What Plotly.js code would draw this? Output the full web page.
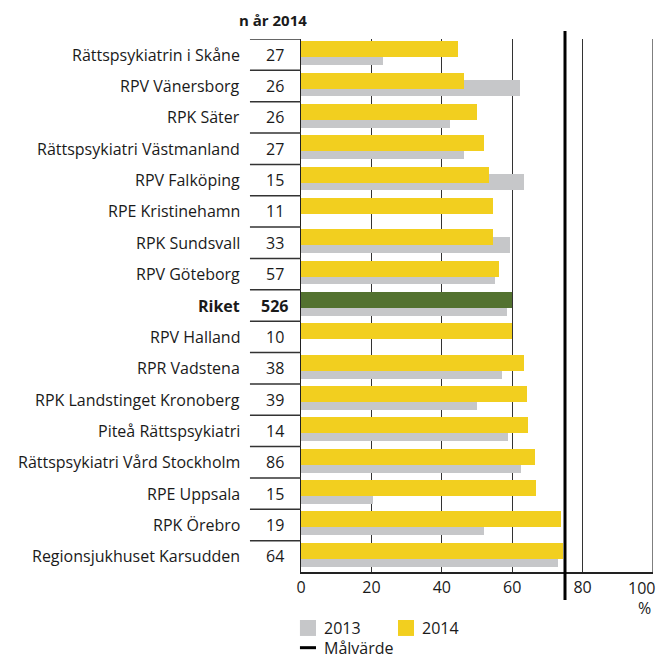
<!DOCTYPE html>
<html>
<head>
<meta charset="utf-8">
<script src="https://cdn.plot.ly/plotly-3.0.1.min.js"></script>
<style>html,body{margin:0;padding:0;background:#fff;}#chart{width:657px;height:660px;}</style>
</head>
<body>
<div id="chart"></div>
<script>
const categories = [
  "Rättspsykiatrin i Skåne","RPV Vänersborg","RPK Säter","Rättspsykiatri Västmanland",
  "RPV Falköping","RPE Kristinehamn","RPK Sundsvall","RPV Göteborg","Riket",
  "RPV Halland","RPR Vadstena","RPK Landstinget Kronoberg","Piteå Rättspsykiatri",
  "Rättspsykiatri Vård Stockholm","RPE Uppsala","RPK Örebro","Regionsjukhuset Karsudden"
];
const nValues = [27,26,26,27,15,11,33,57,526,10,38,39,14,86,15,19,64];
const values2014 = [44.5,46.2,50.0,51.9,53.4,54.5,54.5,56.3,60.0,59.9,63.4,64.2,64.5,66.5,66.8,73.9,74.5];
const values2013 = [23.2,62.2,42.3,46.2,63.4,null,59.4,55.1,58.5,null,57.1,50.0,58.8,62.5,20.4,52.0,73.0];
const targetValue = 75;
const xTicks = [0,20,40,60,80,100];

const FONT = "Open Sans, Noto Sans, sans-serif";
const FS = 16;
const TXT = "#1a1a1a";
const YELLOW = "#F2CF1F", GRAY = "#C6C7C9", GREEN = "#537230";
const idx = categories.map((c,i)=>i);

const trace2013 = {
  type:"bar", orientation:"h", x:values2013, y:idx,
  marker:{color:GRAY}, width:0.51, offset:-0.18,
  hoverinfo:"x", showlegend:false
};
const trace2014 = {
  type:"bar", orientation:"h", x:values2014, y:idx,
  marker:{color:categories.map(c=>c==="Riket"?GREEN:YELLOW)}, width:0.51, offset:-0.43,
  hoverinfo:"x", showlegend:false
};

const annotations = [];
categories.forEach((c,i)=>{
  const bold = c==="Riket";
  annotations.push({xref:"paper", yref:"y", x:-0.1676, y:i, xanchor:"right", yanchor:"middle",
    text: bold?"<b>"+c+"</b>":c, showarrow:false, font:{family:FONT,size:FS,color:TXT}});
  annotations.push({xref:"paper", yref:"y", x:-0.0739, y:i, xanchor:"center", yanchor:"middle",
    text: bold?"<b>"+nValues[i]+"</b>":String(nValues[i]), showarrow:false, font:{family:FONT,size:FS,color:TXT}});
});
// last x tick label, right-aligned so it stays inside the page
annotations.push({xref:"x", yref:"paper", x:xTicks[xTicks.length-1], y:-0.0300, xanchor:"right", yanchor:"middle", xshift:4,
  text:String(xTicks[xTicks.length-1]), showarrow:false, font:{family:FONT,size:FS,color:TXT}});
annotations.push({xref:"paper", yref:"paper", x:0.022, y:1.036, xanchor:"right", yanchor:"middle",
  text:"<b>n år 2014</b>", showarrow:false, font:{family:FONT,size:FS-1,color:TXT}});
annotations.push({xref:"paper", yref:"paper", x:1.0, y:-0.0675, xanchor:"right", yanchor:"middle",
  text:"%", showarrow:false, font:{family:FONT,size:FS,color:TXT}});
annotations.push({xref:"paper", yref:"paper", x:0.0597, y:-0.105, xanchor:"left", yanchor:"middle",
  text:"2013", showarrow:false, font:{family:FONT,size:FS,color:TXT}});
annotations.push({xref:"paper", yref:"paper", x:0.338, y:-0.105, xanchor:"left", yanchor:"middle",
  text:"2014", showarrow:false, font:{family:FONT,size:FS,color:TXT}});
annotations.push({xref:"paper", yref:"paper", x:0.0597, y:-0.142, xanchor:"left", yanchor:"middle",
  text:"Målvärde", showarrow:false, font:{family:FONT,size:FS,color:TXT}});

const shapes = [];
for(let i=0;i<categories.length;i++){
  shapes.push({type:"line", xref:"paper", yref:"y", x0:-0.145, x1:0, y0:i-0.5, y1:i-0.5,
    line:{color:"#333", width:1.5}});
}
shapes.push({type:"line", xref:"x", yref:"paper", x0:xTicks[xTicks.length-1], x1:xTicks[xTicks.length-1], y0:0, y1:1,
  line:{color:"#555", width:1.5}});
shapes.push({type:"line", xref:"x", yref:"paper", x0:targetValue, x1:targetValue, y0:-0.0525, y1:1.015,
  line:{color:"#000", width:3}});
shapes.push({type:"rect", xref:"paper", yref:"paper", x0:-0.003, x1:0.0426, y0:-0.120, y1:-0.090,
  fillcolor:GRAY, line:{width:0}});
shapes.push({type:"rect", xref:"paper", yref:"paper", x0:0.2756, x1:0.321, y0:-0.120, y1:-0.090,
  fillcolor:YELLOW, line:{width:0}});
shapes.push({type:"line", xref:"paper", yref:"paper", x0:-0.003, x1:0.0426, y0:-0.142, y1:-0.142,
  line:{color:"#000", width:3}});

const layout = {
  width:657, height:660,
  margin:{l:301, r:4, t:39, b:88},
  paper_bgcolor:"#fff", plot_bgcolor:"#fff",
  barmode:"overlay",
  bargap:0,
  showlegend:false,
  font:{family:FONT, size:FS, color:TXT},
  xaxis:{range:[0,100], tickvals:xTicks.slice(0,-1), ticktext:xTicks.slice(0,-1).map(String), showgrid:true, gridcolor:"#333", gridwidth:1.2,
    zeroline:false, showline:true, linecolor:"#222", linewidth:2, ticks:"", fixedrange:true,
    tickfont:{family:FONT,size:FS,color:TXT}},
  yaxis:{range:[16.5,-0.5], showticklabels:false, showgrid:false, zeroline:false,
    showline:true, linecolor:"#222", linewidth:1.5, ticks:"", fixedrange:true},
  annotations:annotations,
  shapes:shapes
};

Plotly.newPlot("chart",[trace2013,trace2014],layout,{displayModeBar:false,staticPlot:true});
</script>
</body>
</html>
